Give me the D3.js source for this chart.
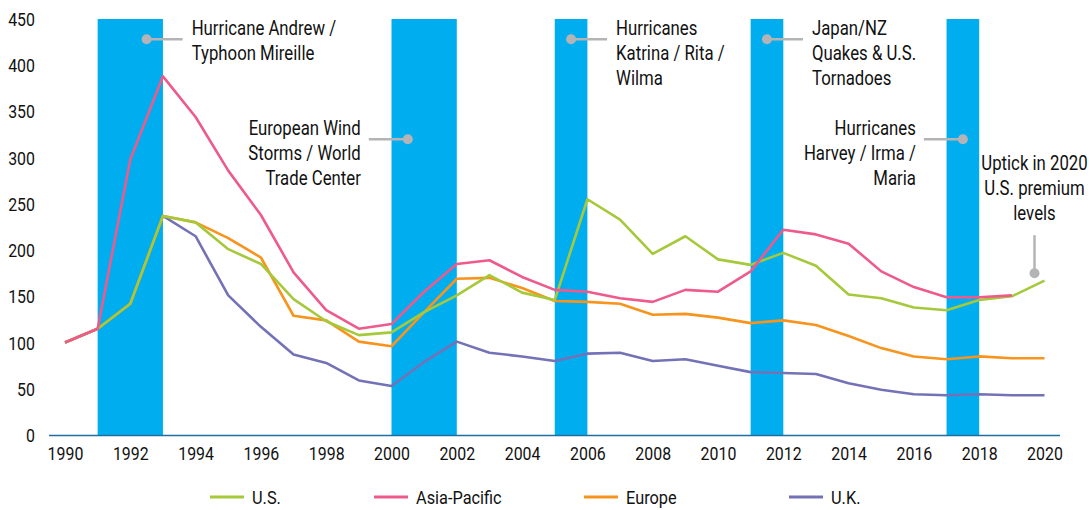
<!DOCTYPE html>
<html><head><meta charset="utf-8">
<script src="https://cdn.jsdelivr.net/npm/d3@7"></script>
<style>
html,body{margin:0;padding:0;background:#fff;}
svg text{font-family:Roboto,"Noto Sans",sans-serif;fill:#111;}
</style></head><body>
<svg id="chart" width="1089" height="510"></svg>
<script>
const years = d3.range(1990, 2021);
const usValues = [100,115,142,237,230,201,185,147,123,108,111,133,151,173,154,146,255,233,196,215,190,184,197,183,152,148,138,135,146,150,167];
const asiaValues = [100,115,298,388,344,286,238,176,135,115,120,155,185,189,171,157,155,148,144,157,155,177,222,217,207,177,160,149,149,151,null];
const europeValues = [100,115,142,237,230,213,192,129,124,101,96,133,169,170,159,145,144,142,130,131,127,121,124,119,107,94,85,82,85,83,83];
const ukValues = [100,115,142,237,215,151,117,87,78,59,53,79,101,89,85,80,88,89,80,82,75,68,67,66,56,49,44,43,44,43,43];
const seriesNames = ["U.S.","Asia-Pacific","Europe","U.K."];
const seriesColors = ["#a5c93b","#ee5a8b","#f7941e","#7472b7"];
const bandStarts = [1991,2000,2005,2011,2017];
const bandEnds = [1993,2002,2006,2012,2018];
const yTicks = [0,50,100,150,200,250,300,350,400,450];
const xTicks = d3.range(1990, 2021, 2);
const annotations = [
  {lines:["Hurricane Andrew /","Typhoon Mireille"], year:1992.5, value:428, anchor:"start", side:"right"},
  {lines:["European Wind","Storms / World","Trade Center"], year:2000.5, value:320, anchor:"end", side:"left"},
  {lines:["Hurricanes","Katrina / Rita /","Wilma"], year:2005.5, value:428, anchor:"start", side:"right"},
  {lines:["Japan/NZ","Quakes & U.S.","Tornadoes"], year:2011.5, value:428, anchor:"start", side:"right"},
  {lines:["Hurricanes","Harvey / Irma /","Maria"], year:2017.5, value:320, anchor:"end", side:"left"}
];
const uptick = {lines:["Uptick in 2020","U.S. premium","levels"], year:2020, value:175};

const SX = 0.86;
const svg = d3.select("#chart");
const x = d3.scaleLinear().domain([1990,2020]).range([65,1044.5]);
const y = d3.scaleLinear().domain([0,450]).range([435,19]);

// bands
svg.append("g").selectAll("rect").data(bandStarts).join("rect")
  .attr("x", (d,i)=>x(d)).attr("width",(d,i)=>x(bandEnds[i])-x(d))
  .attr("y", y(450)).attr("height", y(0)-y(450)).attr("fill","#00aeef");

// axis line
svg.append("line").attr("x1",49).attr("x2",1060).attr("y1",y(0)+0.5).attr("y2",y(0)+0.5)
  .attr("stroke","#1f6f9e").attr("stroke-width",1.5);

// y axis labels
const yAxis = d3.axisLeft(y).tickValues(yTicks).tickSize(0).tickPadding(0);
const yg = svg.append("g").attr("transform","translate(35,0)").call(yAxis);
yg.select(".domain").remove();
yg.selectAll("text").attr("font-size",18.5).style("font-family",null).attr("fill","#111")
  .attr("x",0).attr("dy","0.35em").attr("transform",`scale(${SX},1)`);

// x axis labels
const xAxis = d3.axisBottom(x).tickValues(xTicks).tickFormat(d3.format("d")).tickSize(0).tickPadding(0);
const xg = svg.append("g").attr("transform","translate(0,447)").call(xAxis);
xg.select(".domain").remove();
xg.selectAll("text").attr("font-size",18.5).style("font-family",null).attr("fill","#111")
  .attr("dy","0.71em").attr("transform",`scale(${SX},1)`);

// lines
const allSeries = [usValues, asiaValues, europeValues, ukValues];
const line = d3.line().defined(d=>d.v!=null).x(d=>x(d.t)).y(d=>y(d.v));
const drawOrder = [3,2,0,1];
drawOrder.forEach(i=>{
  svg.append("path").datum(years.map((t,j)=>({t, v:allSeries[i][j]})))
    .attr("d", line).attr("fill","none").attr("stroke",seriesColors[i])
    .attr("stroke-width",2.6).attr("stroke-linejoin","round");
});

function multiText(tx, ty, lines, anchor){
  const t = svg.append("text").attr("transform",`translate(${tx},${ty}) scale(${SX},1)`)
    .attr("text-anchor",anchor).attr("font-size",19.5);
  t.selectAll("tspan").data(lines).join("tspan").attr("x",0)
    .attr("dy",(d,i)=> i===0 ? 0 : 25).text(d=>d);
}

// annotations
const grey = "#b4b4b6";
annotations.forEach(a=>{
  const cx = x(a.year), cy = y(a.value);
  let lx1, lx2, tx;
  if (a.side==="right"){ lx1=cx; lx2=cx+36; tx=cx+45; }
  else { lx1=cx-39; lx2=cx; tx=cx-47; }
  svg.append("line").attr("x1",lx1).attr("x2",lx2).attr("y1",cy).attr("y2",cy)
    .attr("stroke",grey).attr("stroke-width",2.5);
  svg.append("circle").attr("cx",cx).attr("cy",cy).attr("r",5).attr("fill",grey);
  multiText(tx, cy-4.5, a.lines, a.anchor);
});
{
  const cx = x(uptick.year)-10, cy = y(uptick.value);
  svg.append("line").attr("x1",cx).attr("x2",cx).attr("y1",cy-38).attr("y2",cy)
    .attr("stroke",grey).attr("stroke-width",2.5);
  svg.append("circle").attr("cx",cx).attr("cy",cy).attr("r",5).attr("fill",grey);
  multiText(cx, 170, uptick.lines, "middle");
}

// legend
const legendX = [210,374,584,789];
const lg = svg.append("g");
seriesNames.forEach((n,i)=>{
  lg.append("line").attr("x1",legendX[i]).attr("x2",legendX[i]+34).attr("y1",497).attr("y2",497)
    .attr("stroke",seriesColors[i]).attr("stroke-width",3);
  lg.append("text").attr("transform",`translate(${legendX[i]+42},497) scale(${SX},1)`)
    .attr("dy","0.35em").attr("font-size",19).text(n);
});
</script></body></html>
